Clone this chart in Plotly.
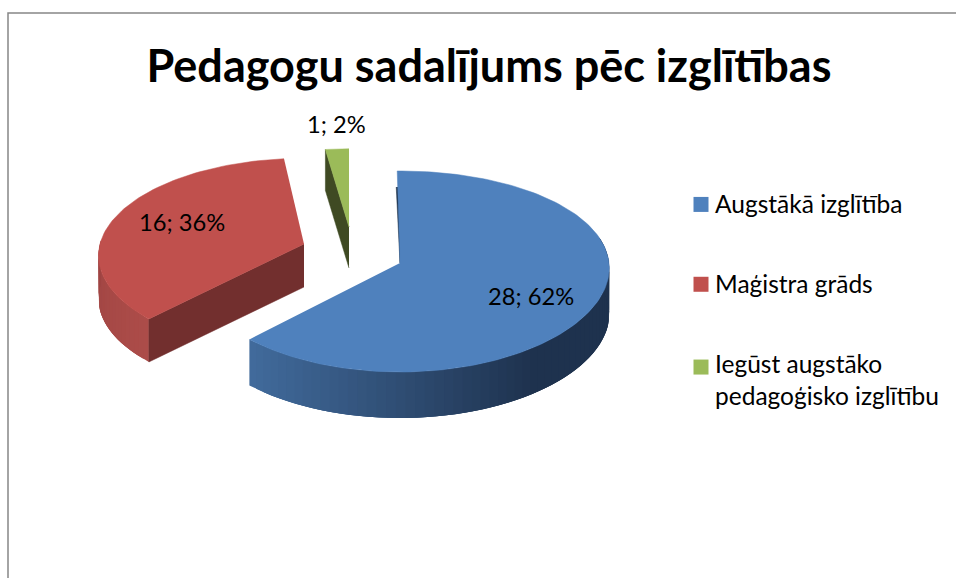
import numpy as np
import plotly.graph_objects as go

# --- data ---
categories = ["Augstākā izglītība", "Maģistra grāds", "Iegūst augstāko<br>pedagoģisko izglītību"]
values = [28, 16, 1]
title_text = "Pedagogu sadalījums pēc izglītības"

# --- styling / layout of the tilted, exploded pie ---
FONT = "Lato"
face_colors = ["#4f81bd", "#c0504d", "#9bbb59"]
cut_colors = ["#1c3048", "#722f2e", "#3f4a23"]
apex = [(400, 263), (304, 244), (349, 227)]
radius_x = [209, 204, 178]
radius_y = [99.8, 95.6, 84.8]
persp_y = [0.0846, 0.115, 0.0846]
persp_x = [0.05, 0.12, 0.05]
depth = [46, 43, 41]
start_trim = [-0.8, 0.0, 0.0]
end_trim = [0.0, 1.7, 0.0]
label_xy = [(531, 296), (182, 222), (336, 124)]


def rim(theta_deg, i):
    t = np.radians(theta_deg)
    x = apex[i][0] + radius_x[i] * np.sin(t) / (1 + persp_x[i] * np.cos(t))
    y = apex[i][1] - radius_y[i] * np.cos(t) / (1 + persp_y[i] * np.cos(t))
    return x, y


def poly(xs, ys, color, width=0.5):
    return go.Scatter(x=list(xs), y=list(ys), mode="lines", fill="toself", fillcolor=color,
                      line=dict(color=color, width=width), hoverinfo="skip", showlegend=False)


def lerp(c0, c1, f):
    f = float(np.clip(f, 0, 1))
    return "rgb(%d,%d,%d)" % tuple(round(a + (b - a) * f) for a, b in zip(c0, c1))


def wall(fig, i, th, color_of):
    """Outer wall as overlapping strips so no seams show; later strips cover earlier overlap."""
    for n in range(len(th) - 1):
        p, q = th[n], th[min(n + 3, len(th) - 1)]
        sub = np.linspace(p, q, 5)
        xa, ya = rim(sub, i)
        c = color_of(th[n], rim(th[n], i)[0])
        fig.add_trace(poly([*xa, *xa[::-1]], [*ya, *(ya[::-1] + depth[i])], c, width=0))


total = sum(values)
edges = np.concatenate([[0], np.cumsum(values)]) * 360.0 / total
spans = [(edges[i] + start_trim[i], edges[i + 1] + end_trim[i]) for i in range(len(values))]

fig = go.Figure()

# green wedge
i = 2
a0, a1 = spans[i]
x0, y0 = rim(a0, i)
fig.add_trace(poly([apex[i][0], x0, x0, apex[i][0]], [apex[i][1], y0, y0 + depth[i], apex[i][1] + depth[i]], cut_colors[i]))
th = np.linspace(a0, a1, 12)
xs, ys = rim(th, i)
fig.add_trace(poly([apex[i][0], *xs], [apex[i][1], *ys], face_colors[i]))

# red wedge
i = 1
a0, a1 = spans[i]
wall(fig, i, np.linspace(a0, 272, 24), lambda t, x: lerp((172, 76, 73), (158, 68, 66), (t - a0) / (272 - a0)))
x0, y0 = rim(a0, i)
fig.add_trace(poly([apex[i][0], x0, x0, apex[i][0]], [apex[i][1], y0, y0 + depth[i], apex[i][1] + depth[i]], cut_colors[i]))
th = np.linspace(a0, a1, 80)
xs, ys = rim(th, i)
fig.add_trace(poly([apex[i][0], *xs], [apex[i][1], *ys], face_colors[i]))

# blue wedge
i = 0
a0, a1 = spans[i]
x1, y1 = rim(a0, i)
fig.add_trace(poly([x1 - 1, apex[i][0], apex[i][0]], [y1 + 16, apex[i][1], y1 + 16], cut_colors[i]))
wall(fig, i, np.linspace(a1, 75, 60), lambda t, x: lerp((65, 106, 155), (30, 50, 78), (x - 250) / 280))
th = np.linspace(a0, a1, 160)
xs, ys = rim(th, i)
fig.add_trace(poly([apex[i][0], *xs], [apex[i][1], *ys], face_colors[i]))

# legend entries
for name, color in zip(categories, face_colors):
    fig.add_trace(go.Scatter(x=[None], y=[None], mode="markers", name=name, legendgroup=name,
                             marker=dict(symbol="square", size=15, color=color), showlegend=True))

# data labels
annotations = [
    dict(x=lx, y=ly, xref="x", yref="y", text=f"{v}; {round(100 * v / total)}%", showarrow=False,
         font=dict(family=FONT, size=23.7, color="#000000"), xanchor="center", yanchor="middle")
    for (lx, ly), v in zip(label_xy, values)
]

fig.update_layout(
    width=956, height=578, margin=dict(l=0, r=0, t=0, b=0),
    autosize=False,
    paper_bgcolor="#ffffff", plot_bgcolor="#ffffff",
    xaxis=dict(range=[0, 956], visible=False, fixedrange=True),
    yaxis=dict(range=[578, 0], visible=False, fixedrange=True),
    title=dict(text=f"<b>{title_text}</b>", x=489 / 956, y=1 - 66 / 578, xanchor="center", yanchor="middle",
               font=dict(family=FONT, size=45, color="#000000")),
    legend=dict(x=681 / 956, y=1 - 181 / 578, xanchor="left", yanchor="top", tracegroupgap=45,
                indentation=-6,
                bgcolor="rgba(0,0,0,0)", itemclick=False, itemdoubleclick=False,
                font=dict(family=FONT, size=24.5, color="#000000")),
    annotations=annotations,
    shapes=[dict(type="rect", xref="x", yref="y", x0=8, y0=13, x1=1100, y1=700,
                 line=dict(color="#868686", width=1.5), layer="below")],
    showlegend=True,
)
# Reference swatches sit closer to their text, and the wrapped entry's swatch aligns with its first line.
nudge_js = """
document.body.style.margin='0';
document.documentElement.style.overflow='hidden';
var swatches=document.querySelectorAll('.legend .legendsymbols');
swatches.forEach(function(g,n){
  g.setAttribute('transform','translate(6,'+(n===2?-12:1)+')');
});
"""
fig.write_html("out.html", config=dict(displayModeBar=False), post_script=nudge_js)
